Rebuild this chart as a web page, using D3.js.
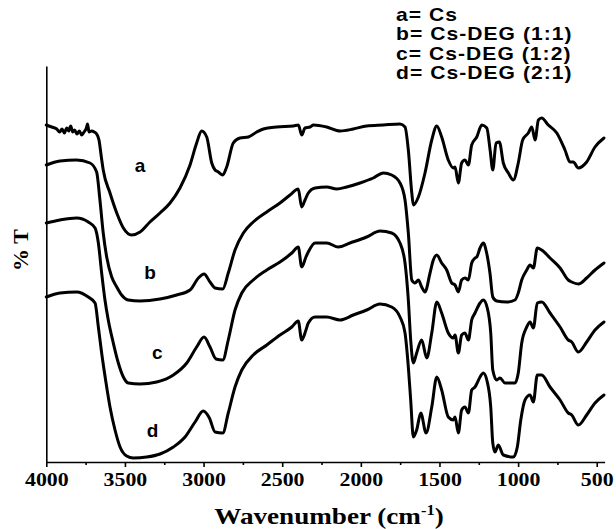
<!DOCTYPE html>
<html>
<head>
<meta charset="utf-8">
<script src="https://cdn.jsdelivr.net/npm/d3@7"></script>
<style>
  html, body { margin: 0; padding: 0; background: #fff; }
  svg { display: block; }
</style>
</head>
<body>
<svg id="chart" width="616" height="529"></svg>
<script>
// ---------- data (wavenumber cm-1, %T in arbitrary offset units) ----------
const seriesA = [[4000,337],[3965,335],[3934,333],[3915,330],[3900,333],[3885,329],[3870,334],[3858,331],[3845,336],[3832,330],[3820,332],[3805,328],[3790,331],[3775,327],[3760,330],[3745,334],[3738,338],[3728,330],[3712,331],[3695,330],[3680,328],[3665,322],[3650,305],[3638,292],[3595,269],[3552,249],[3510,234],[3457,227],[3404,230],[3341,240],[3277,249],[3213,259],[3150,274],[3086,297],[3044,319],[3012,331],[2980,325],[2948,299],[2927,292],[2906,290],[2878,287],[2853,295],[2811,319],[2768,324],[2715,325],[2662,330],[2620,333],[2535,335],[2429,336],[2397,337],[2376,327],[2355,334],[2323,335],[2302,337],[2217,335],[2132,331],[2048,333],[1963,336],[1857,337],[1751,338],[1719,335],[1698,312],[1676,269],[1666,257],[1634,265],[1592,289],[1549,322],[1517,336],[1486,325],[1444,302],[1412,294],[1401,295],[1380,279],[1359,299],[1338,302],[1316,297],[1295,317],[1263,325],[1231,337],[1199,334],[1178,312],[1161,292],[1140,319],[1119,320],[1094,299],[1062,289],[1030,282],[999,299],[971,322],[935,329],[913,335],[892,322],[871,342],[850,344],[808,337],[754,329],[702,312],[670,300],[649,300],[617,294],[564,300],[511,315],[454,324]];

const seriesB = [[4000,297],[3913,301],[3807,302],[3722,299],[3680,290],[3659,262],[3638,229],[3616,205],[3584,185],[3552,175],[3521,167],[3479,162],[3404,161],[3277,163],[3171,167],[3086,172],[3033,184],[2997,188],[2959,180],[2927,174],[2878,173],[2843,189],[2800,212],[2747,229],[2684,240],[2598,250],[2514,259],[2450,267],[2398,273],[2376,255],[2355,262],[2334,269],[2291,274],[2217,275],[2153,273],[2090,275],[2005,279],[1921,284],[1857,289],[1804,287],[1751,279],[1719,262],[1698,229],[1676,182],[1655,179],[1634,182],[1613,175],[1592,170],[1560,189],[1539,202],[1517,207],[1486,199],[1454,192],[1422,179],[1401,177],[1380,170],[1359,182],[1338,184],[1316,182],[1295,199],[1274,204],[1263,205],[1242,214],[1221,219],[1200,209],[1179,189],[1161,165],[1136,161],[1072,160],[1020,162],[999,169],[977,182],[945,192],[924,197],[903,194],[878,214],[850,212],[797,204],[733,194],[681,182],[659,180],[617,178],[564,184],[511,192],[454,199]];

const seriesC = [[4000,239],[3913,242],[3807,244],[3733,240],[3690,234],[3669,219],[3648,189],[3627,162],[3606,142],[3574,119],[3542,99],[3510,85],[3479,79],[3404,78],[3298,80],[3192,87],[3107,99],[3044,115],[2997,125],[2959,115],[2921,103],[2878,102],[2843,122],[2800,152],[2757,169],[2684,182],[2598,192],[2514,200],[2439,209],[2398,215],[2376,195],[2349,205],[2334,210],[2291,219],[2217,219],[2143,215],[2069,219],[1963,225],[1878,231],[1804,229],[1751,219],[1719,199],[1698,162],[1683,122],[1666,99],[1645,109],[1613,122],[1581,104],[1549,129],[1517,160],[1486,149],[1444,129],[1412,124],[1401,127],[1380,109],[1359,127],[1338,129],[1316,122],[1295,142],[1274,149],[1242,159],[1221,162],[1196,154],[1174,129],[1161,92],[1136,82],[1115,84],[1083,79],[1020,79],[999,89],[977,119],[945,135],[924,140],[903,134],[878,159],[850,160],[797,149],[733,135],[681,122],[659,120],[617,110],[564,120],[511,132],[454,140]];

const seriesD = [[4000,165],[3913,169],[3807,170],[3733,165],[3690,159],[3669,135],[3648,109],[3620,79],[3595,55],[3563,32],[3531,15],[3489,6],[3447,4],[3362,5],[3277,8],[3192,15],[3118,25],[3054,40],[3002,51],[2963,44],[2927,30],[2878,29],[2843,49],[2800,75],[2757,92],[2684,107],[2598,117],[2514,127],[2439,135],[2398,141],[2376,122],[2349,132],[2334,139],[2291,145],[2217,145],[2132,142],[2048,147],[1963,152],[1878,158],[1804,155],[1751,145],[1719,129],[1698,95],[1683,62],[1666,25],[1645,32],[1619,49],[1585,29],[1549,55],[1517,85],[1486,72],[1444,45],[1412,42],[1401,45],[1380,29],[1359,52],[1338,55],[1316,49],[1295,72],[1274,75],[1242,85],[1221,89],[1196,80],[1174,55],[1161,19],[1147,10],[1126,17],[1094,7],[1030,5],[1005,15],[983,42],[956,62],[924,67],[903,60],[878,87],[850,87],[797,75],[733,62],[681,49],[659,47],[617,37],[564,47],[511,59],[454,67]];

const seriesKeys = ["a", "b", "c", "d"];
const seriesNames = ["Cs", "Cs-DEG (1:1)", "Cs-DEG (1:2)", "Cs-DEG (2:1)"];
const labelPos = [[3404, 297], [3340, 190], [3295, 110], [3325, 32]]; // (wavenumber, %T) of the a/b/c/d tags
const xTicks = [4000, 3500, 3000, 2500, 2000, 1500, 1000, 500];
const xMinorTicks = [3750, 3250, 2750, 2250, 1750, 1250, 750];

// ---------- drawing ----------
const svg = d3.select("#chart");
const x = d3.scaleLinear().domain([4000, 450]).range([46.3, 604.6]);
const y = d3.scaleLinear().domain([0, 396]).range([462, 66]);

const line = d3.line()
  .x(d => x(d[0]))
  .y(d => y(d[1]))
  .curve(d3.curveMonotoneX);

const allSeries = [seriesA, seriesB, seriesC, seriesD];
svg.append("g").selectAll("path")
  .data(allSeries)
  .join("path")
  .attr("d", line)
  .attr("fill", "none")
  .attr("stroke", "#000")
  .attr("stroke-width", 3)
  .attr("stroke-linejoin", "round")
  .attr("stroke-linecap", "round");

const serif = "'Liberation Serif', 'Times New Roman', serif";
const sans = "'Liberation Sans', Arial, sans-serif";

// x axis (major + minor ticks)
const xAxis = svg.append("g").attr("transform", "translate(0,462)");
xAxis.call(d3.axisBottom(x).tickValues(xTicks).tickSize(5).tickSizeOuter(0).tickFormat(d3.format("d")))
  .call(g => g.select(".domain").attr("stroke-width", 1.6))
  .call(g => g.selectAll(".tick line").attr("stroke-width", 1.6))
  .call(g => g.selectAll(".tick text")
    .attr("font-family", serif)
    .attr("font-weight", "bold")
    .attr("font-size", 19)
    .attr("fill", "#000")
    .attr("dy", "0.2em")
    .attr("y", 20)
    .attr("transform", "scale(1.15,1)"));
xAxis.append("g").call(d3.axisBottom(x).tickValues(xMinorTicks).tickSize(3).tickFormat(""))
  .call(g => g.select(".domain").remove())
  .call(g => g.selectAll(".tick line").attr("stroke-width", 1.6));

// y axis (line only)
const yAxis = svg.append("g").attr("transform", "translate(46.3,0)");
yAxis.call(d3.axisLeft(y).tickValues([]).tickSizeOuter(0))
  .call(g => g.select(".domain").attr("stroke-width", 1.6));

// axis titles
const xTitle = svg.append("text")
  .attr("transform", "translate(329,524) scale(1.18,1)")
  .attr("text-anchor", "middle")
  .attr("font-family", serif)
  .attr("font-weight", "bold")
  .attr("font-size", 23)
  .attr("fill", "#000");
xTitle.append("tspan").text("Wavenumber (cm");
xTitle.append("tspan").text("-1").attr("font-size", 14).attr("dy", -9);
xTitle.append("tspan").text(")").attr("dy", 9);

svg.append("text")
  .attr("transform", "translate(28,250) rotate(-90)")
  .attr("text-anchor", "middle")
  .attr("font-family", serif)
  .attr("font-weight", "bold")
  .attr("font-size", 22)
  .attr("fill", "#000")
  .text("% T");

// curve tags
svg.append("g").selectAll("text")
  .data(labelPos)
  .join("text")
  .attr("x", d => x(d[0]))
  .attr("y", d => y(d[1]))
  .attr("dy", "0.35em")
  .attr("text-anchor", "middle")
  .attr("font-family", sans)
  .attr("font-weight", "bold")
  .attr("font-size", 19)
  .attr("fill", "#000")
  .text((d, i) => seriesKeys[i]);

// legend text
svg.append("g")
  .attr("transform", "translate(396,0) scale(1.17,1)")
  .selectAll("text")
  .data(seriesKeys)
  .join("text")
  .attr("x", 0)
  .attr("y", (d, i) => 21 + i * 19.3)
  .attr("font-family", sans)
  .attr("font-weight", "bold")
  .attr("font-size", 18)
  .attr("letter-spacing", 0.9)
  .attr("fill", "#000")
  .text((d, i) => d + "= " + seriesNames[i]);
</script>
</body>
</html>
